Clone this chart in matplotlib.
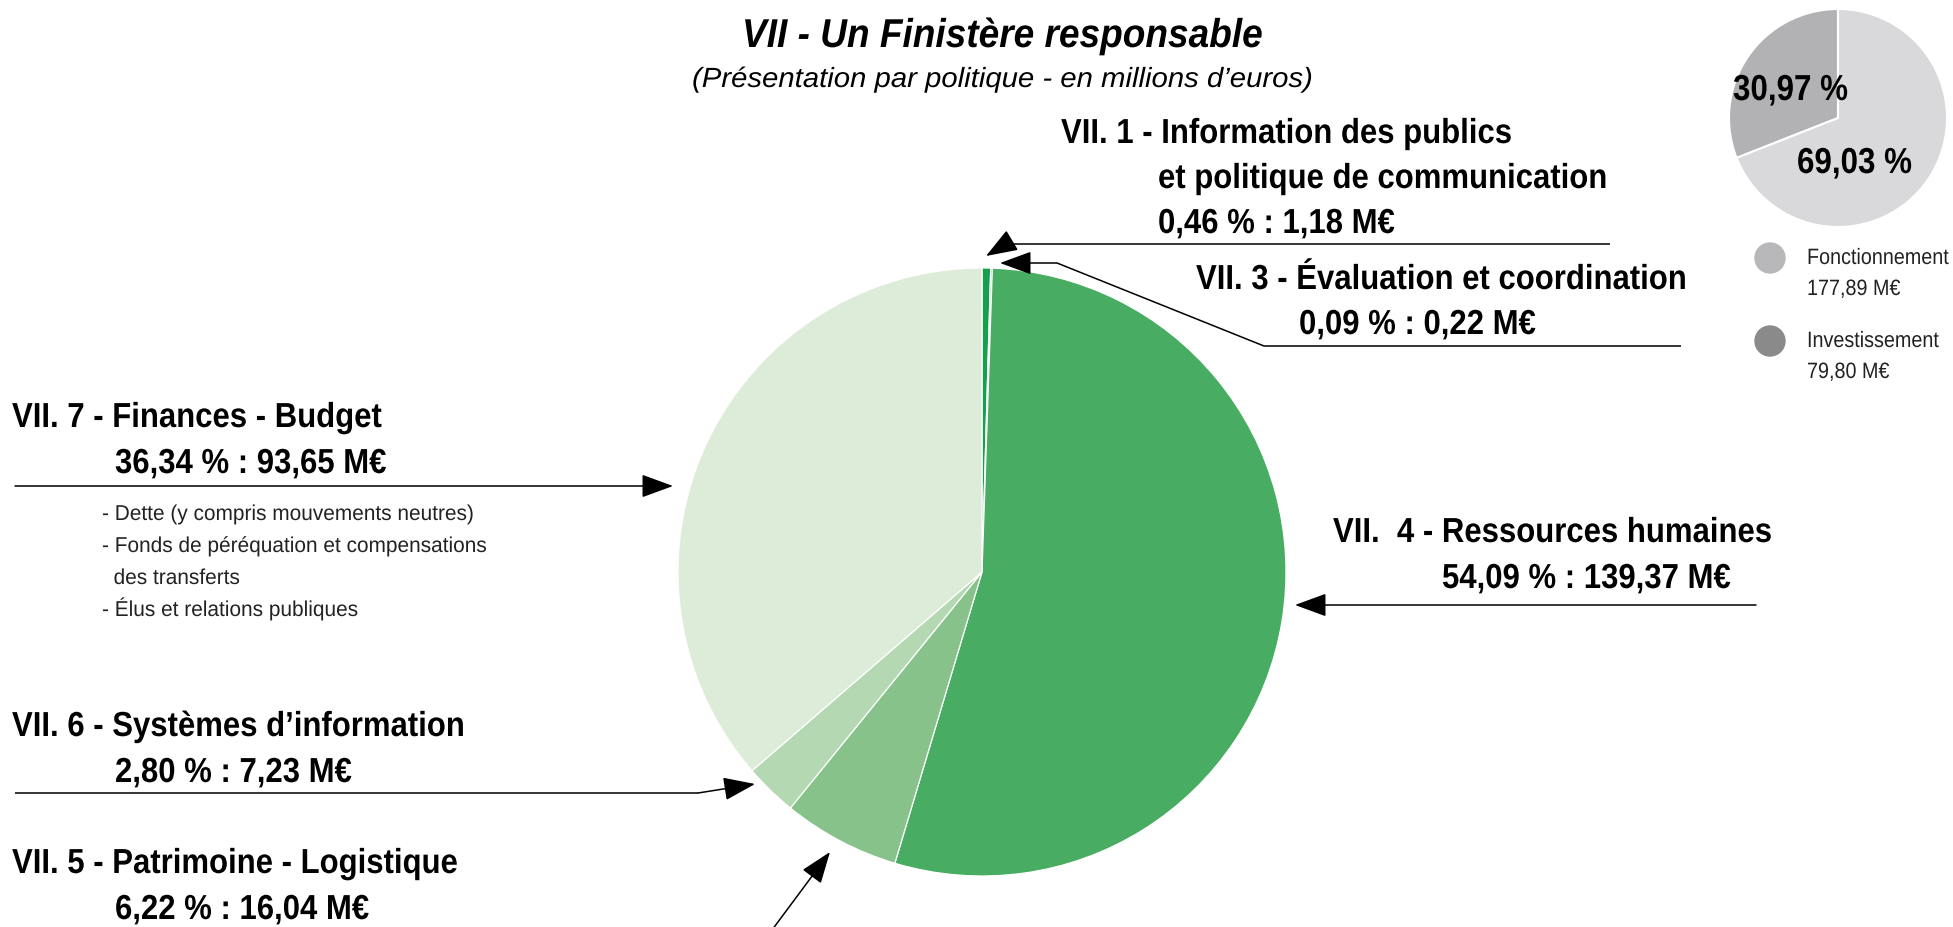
import matplotlib
matplotlib.use("Agg")
import matplotlib.pyplot as plt
from matplotlib import font_manager
from matplotlib.patches import Circle
from matplotlib.patheffects import AbstractPathEffect
from matplotlib.transforms import Affine2D

# Data ---------------------------------------------------------------
POLICIES = [
    "VII. 1 - Information des publics",
    "VII. 3 - Évaluation et coordination",
    "VII.  4 - Ressources humaines",
    "VII. 5 - Patrimoine - Logistique",
    "VII. 6 - Systèmes d’information",
    "VII. 7 - Finances - Budget",
]
AMOUNTS = [1.18, 0.22, 139.37, 16.04, 7.23, 93.65]
PERCENTS = ["0,46", "0,09", "54,09", "6,22", "2,80", "36,34"]
AMOUNT_LABELS = ["1,18", "0,22", "139,37", "16,04", "7,23", "93,65"]

SLICE_COLORS = ["#14a04c", "#5f7464", "#48ad62", "#86c289", "#b4d8b1", "#dcecd9"]

SECTIONS = ["Investissement", "Fonctionnement"]
SECTION_AMOUNTS = [79.80, 177.89]
SECTION_PERCENTS = ["30,97", "69,03"]
SECTION_LABELS = ["79,80", "177,89"]
SECTION_COLORS = ["#b2b2b4", "#d9d9db"]
LEGEND_COLORS = ["#8a8a8b", "#b8b8ba"]

FINANCE_DETAILS = [
    "- Dette (y compris mouvements neutres)",
    "- Fonds de péréquation et compensations",
    "  des transferts",
    "- Élus et relations publiques",
]

# Layout -------------------------------------------------------------
W, H = 1953, 927

names = {f.name for f in font_manager.fontManager.ttflist}
FONT = "Liberation Sans Narrow" if "Liberation Sans Narrow" in names else "Liberation Sans"
plt.rcParams["font.family"] = [FONT, "DejaVu Sans"]


class Squeeze(AbstractPathEffect):
    """Narrow the glyphs horizontally (the original uses a condensed face)."""

    def __init__(self, sx):
        super().__init__()
        self.sx = sx

    def draw_path(self, renderer, gc, tpath, affine, rgbFace=None):
        renderer.draw_path(gc, tpath, Affine2D().scale(self.sx, 1) + affine,
                           rgbFace)


def Y(y):
    """Image row (from top) to data y."""
    return H - y


def fmt(pct, amount):
    return f"{pct} % : {amount} M€"


fig = plt.figure(figsize=(W / 100, H / 100), dpi=100)
ax = fig.add_axes([0, 0, 1, 1])
renderer = fig.canvas.get_renderer()


def make_style(sample, target_width, **kw):
    """Font settings + squeeze factor so that `sample` is target_width px wide."""
    t = fig.text(0, 0, sample, **kw)
    width = t.get_window_extent(renderer).width
    t.remove()
    return dict(kw, path_effects=[Squeeze(target_width / width)])


TITLE = make_style("VII - Un Finistère responsable", 520,
                   fontsize=29, fontweight="bold", style="italic")
SUBTITLE = make_style("(Présentation par politique - en millions d’euros)", 619,
                      fontsize=20, style="italic")
LABEL = make_style("et politique de communication", 449,
                   fontsize=25, fontweight="bold")
DETAIL = make_style(FINANCE_DETAILS[0], 371, fontsize=15.5, color="#222222")
PIE_LABEL = make_style("30,97 %", 115, fontsize=26, fontweight="bold")
LEGEND = make_style("Fonctionnement", 142, fontsize=16, color="#222222")


def put(x, y, text, style):
    ax.text(x, Y(y), text, ha="left", va="baseline", **style)


def draw_arrow(points):
    """Polyline with an arrow head on the last segment."""

    xs = [p[0] for p in points]
    ys = [Y(p[1]) for p in points]

    if len(points) > 2:
        ax.plot(xs[:-1], ys[:-1], color="black", linewidth=1.1,
                solid_capstyle="butt")

    ax.annotate(
        "",
        xy=(xs[-1], ys[-1]),
        xytext=(xs[-2], ys[-2]),
        arrowprops=dict(
            arrowstyle="-|>,head_length=0.9,head_width=0.33",
            mutation_scale=22,
            color="black",
            linewidth=1.1,
            shrinkA=0,
            shrinkB=0,
        ),
    )


# Main pie
ax.pie(
    AMOUNTS,
    colors=SLICE_COLORS,
    startangle=90,
    counterclock=False,
    center=(982, Y(572)),
    radius=304,
    wedgeprops=dict(edgecolor="white", linewidth=0.9),
)

# Small pie
ax.pie(
    SECTION_AMOUNTS,
    colors=SECTION_COLORS,
    startangle=90,
    counterclock=True,
    center=(1838, Y(118)),
    radius=109,
    wedgeprops=dict(edgecolor="white", linewidth=1.5),
)

ax.set_xlim(0, W)
ax.set_ylim(0, H)
ax.axis("off")

# Title
put(742, 47, "VII - Un Finistère responsable", TITLE)
put(692, 87, "(Présentation par politique - en millions d’euros)", SUBTITLE)

# Small pie labels and legend
put(1733, 100, f"{SECTION_PERCENTS[0]} %", PIE_LABEL)
put(1797, 173, f"{SECTION_PERCENTS[1]} %", PIE_LABEL)

for i, row in enumerate([1, 0]):
    cy = 258 + i * 83
    ax.add_patch(Circle((1770, Y(cy)), 15, color=LEGEND_COLORS[row]))
    put(1807, cy + 6, SECTIONS[row], LEGEND)
    put(1807, cy + 37, f"{SECTION_LABELS[row]} M€", LEGEND)

# VII.1
put(1061, 143, POLICIES[0], LABEL)
put(1158, 188, "et politique de communication", LABEL)
put(1158, 233, fmt(PERCENTS[0], AMOUNT_LABELS[0]), LABEL)
draw_arrow([(1610, 244), (1006, 244), (986, 256)])

# VII.3
put(1196, 289, POLICIES[1], LABEL)
put(1299, 334, fmt(PERCENTS[1], AMOUNT_LABELS[1]), LABEL)
draw_arrow([(1681, 346), (1264, 346), (1057, 263), (1000, 263)])

# VII.4
put(1333, 542, POLICIES[2], LABEL)
put(1442, 588, fmt(PERCENTS[2], AMOUNT_LABELS[2]), LABEL)
draw_arrow([(1756, 605), (1295, 605)])

# VII.7
put(12, 427, POLICIES[5], LABEL)
put(115, 473, fmt(PERCENTS[5], AMOUNT_LABELS[5]), LABEL)
draw_arrow([(15, 486), (673, 486)])

for i, line in enumerate(FINANCE_DETAILS):
    put(102, 520 + i * 32, line, DETAIL)

# VII.6
put(12, 736, POLICIES[4], LABEL)
put(115, 782, fmt(PERCENTS[4], AMOUNT_LABELS[4]), LABEL)
draw_arrow([(15, 793), (698, 793), (755, 784)])

# VII.5
put(12, 873, POLICIES[3], LABEL)
put(115, 919, fmt(PERCENTS[3], AMOUNT_LABELS[3]), LABEL)
draw_arrow([(772, 930), (830, 852)])

fig.savefig("out.png", dpi=100)
plt.close(fig)
